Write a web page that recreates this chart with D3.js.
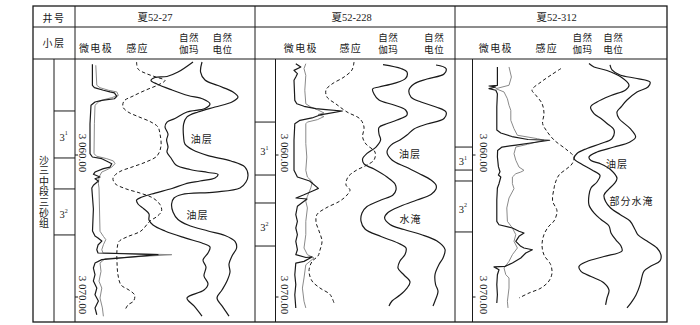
<!DOCTYPE html>
<html><head><meta charset="utf-8">
<script src="https://cdn.jsdelivr.net/npm/d3@7"></script>
<style>body{margin:0;background:#fff}svg{display:block}</style>
</head><body><svg id="c" width="700" height="325"></svg>
<script>
// ---------------- DATA ----------------
const wellNames = ["夏52-27", "夏52-228", "夏52-312"];
const curveNames = ["微电极", "感应", "自然\n伽玛", "自然\n电位"];
const rowHeaders = ["井号", "小层"];
const formationName = "沙三中段三砂组";
const layerNames = [["3", "1"], ["3", "2"]];
const depthTicks = [3060, 3070];
const depthTickLabels = ["3 060.00", "3 070.00"];

// layer boundaries (m): top/bottom of 3^1, top/bottom of 3^2
const w1Layers = [3056.90, 3060.21, 3062.39, 3065.63];
const w2Layers = [3057.68, 3061.41, 3063.38, 3066.41];
const w3Layers = [3059.44, 3061.06, 3061.83, 3065.42];

// curves: [depth (m), relative reading]
const w1MicroBlack = [[3053.61,8.7],[3055.09,8.7],[3055.26,9.7],[3055.44,14.2],[3055.56,17.5],[3055.63,19.7],[3055.87,20.9],[3056.04,19.7],[3056.15,13.4],[3056.27,10],[3056.50,8],[3057.80,7.5],[3059.91,7.5],[3060.14,8.7],[3060.26,13.4],[3060.49,16.7],[3060.61,18.4],[3060.85,17.5],[3060.96,14.2],[3061.20,10],[3061.36,9.2],[3061.55,12.5],[3061.67,10],[3061.83,11.7],[3062.13,9.2],[3062.32,8.4],[3063.80,9.2],[3065.35,8.75],[3065.70,10],[3065.84,11.5],[3066.06,13.4],[3066.34,11.5],[3066.67,10.9],[3066.90,11.5],[3067.02,41.5],[3067.37,13.4],[3067.61,10],[3067.96,9.2],[3068.43,10],[3068.87,9.2],[3069.37,10.9],[3069.84,10],[3070.28,11.7],[3070.77,10],[3071.25,10.9]];
const w1MicroGray = [[3053.68,10.4],[3055.09,10.9],[3055.26,12.5],[3055.44,16.7],[3055.56,20.9],[3055.80,21.7],[3055.96,18.4],[3056.11,14.2],[3056.27,11.7],[3056.50,10],[3057.80,9.7],[3059.91,9.5],[3060.09,10.9],[3060.26,15.9],[3060.42,19.2],[3060.61,20],[3060.85,18.4],[3061.04,15.9],[3061.20,13.4],[3061.55,12],[3062.02,11.7],[3062.32,12],[3065.37,12.5],[3065.73,14.2],[3065.96,15.4],[3066.32,14.2],[3066.67,13.4],[3066.90,14],[3067.02,48.4],[3067.30,15],[3067.61,12.5],[3068.19,13],[3068.89,12],[3069.37,13.4],[3070.07,12.5],[3070.77,13.7],[3071.36,14.2]];
const w1Induction = [[3053.45,30.8],[3053.94,31.5],[3054.26,35.5],[3054.51,40.5],[3054.75,45],[3055.07,41.5],[3055.42,35.5],[3055.85,29],[3056.20,24.5],[3056.62,24],[3056.97,26.5],[3057.29,31.5],[3057.68,38],[3058.03,41.5],[3058.52,42.5],[3059.37,43],[3060.07,41],[3060.49,35.5],[3060.85,28.5],[3061.20,22],[3061.62,19],[3062.01,20],[3062.36,25],[3062.68,32.5],[3063.03,39],[3063.49,42.5],[3063.94,43.3],[3064.33,41],[3064.65,37.5],[3065.35,33],[3065.77,26],[3066.09,22],[3066.69,21],[3067.54,21],[3068.45,21.5],[3069.15,23],[3069.51,27],[3069.86,29.8],[3070.28,29.3],[3070.56,26.5],[3070.92,25]];
const w1GR = [[3053.45,59],[3054.16,51.5],[3054.47,46],[3054.54,40],[3054.75,38],[3055.00,41],[3055.42,48.5],[3055.81,56.5],[3056.06,64],[3056.41,67.5],[3056.73,65],[3056.97,56],[3057.43,50],[3057.68,46],[3058.03,45],[3058.52,46.5],[3058.94,45.8],[3059.44,46.5],[3059.79,46],[3060.21,48],[3060.70,50.5],[3061.02,57.5],[3061.23,66.5],[3061.37,71.5],[3061.62,70],[3061.83,62.5],[3062.04,55],[3062.36,48.5],[3062.68,40],[3062.96,33.5],[3063.17,30.8],[3063.45,31.5],[3063.80,34.5],[3064.15,37],[3064.58,37],[3064.93,39],[3065.35,45],[3065.84,55],[3066.23,64],[3066.48,67.5],[3066.90,66.5],[3067.39,64],[3067.89,65.5],[3068.52,64.5],[3069.08,66.5],[3069.51,64.5],[3070.07,56],[3070.63,59.5],[3071.34,63.5]];
const w1SP = [[3053.45,63.5],[3054.16,62.8],[3054.72,65],[3055.11,71.5],[3055.56,79],[3055.92,81.5],[3056.27,78.5],[3056.62,70],[3056.97,61.5],[3057.32,56],[3057.82,54.3],[3058.73,54.3],[3059.23,55],[3059.65,59],[3060.04,66.5],[3060.42,78],[3060.85,85],[3061.41,86.5],[3061.90,85.5],[3062.32,82.5],[3062.61,70],[3062.78,53.5],[3063.03,49.5],[3063.45,48.3],[3064.01,49],[3064.54,51.5],[3064.93,56.5],[3065.35,66.5],[3065.67,75],[3066.09,80],[3066.55,80.8],[3067.11,78.5],[3067.68,77],[3068.24,77.5],[3068.87,76],[3069.51,73.5],[3070.07,71],[3070.63,73.5],[3071.34,77]];

const w2MicroBlack = [[3053.57,20.4],[3053.80,22.9],[3054.04,19.5],[3054.27,21.2],[3054.51,20.4],[3054.74,19.5],[3056.15,19.9],[3056.39,20.9],[3056.57,24.5],[3056.74,30.4],[3056.80,35.5],[3056.90,43.7],[3057.09,36.2],[3057.18,32.5],[3057.39,28.5],[3057.56,22.5],[3057.80,19.9],[3058.96,19.5],[3061.08,19.5],[3061.55,21.2],[3061.83,27.3],[3062.35,31.7],[3062.46,30],[3062.82,24.2],[3063.03,20.5],[3063.10,26],[3063.61,21.2],[3064.20,20.4],[3064.67,21.2],[3065.14,20.4],[3065.61,21.2],[3066.08,20.4],[3066.67,21.2],[3067.02,20.4],[3067.22,25.5],[3067.18,28.5],[3067.49,24.5],[3067.61,20.4],[3068.43,19.9],[3069.13,20.4],[3069.84,19.9],[3070.77,20.4]];
const w2MicroGray = [[3053.57,25.4],[3053.92,24.5],[3054.39,25.4],[3055.44,24.9],[3056.39,25.4],[3056.62,27.9],[3056.81,31.2],[3057.04,34.5],[3057.15,31.5],[3057.29,34.5],[3057.51,31.2],[3057.68,26.2],[3057.80,25.4],[3059.20,25.4],[3060.14,25.9],[3061.08,25.4],[3061.55,26.2],[3061.90,28.7],[3062.32,27.9],[3062.91,26.2],[3063.26,25.4],[3063.73,26.2],[3064.67,25.4],[3065.61,25.4],[3066.55,24.5],[3067.02,26.2],[3067.25,29.5],[3067.73,25.4],[3068.66,24.5],[3069.37,23.7],[3070.30,24.5],[3070.77,25.4]];
const w2Induction = [[3053.45,49.5],[3054.01,48.5],[3054.51,44.5],[3055.00,38.5],[3055.42,35.5],[3055.92,36],[3056.41,40.5],[3056.97,46],[3057.46,52.5],[3058.03,54.5],[3058.73,53.8],[3059.23,55.5],[3059.79,60],[3060.35,59.5],[3060.74,55.5],[3061.09,50.5],[3061.55,46.5],[3062.11,45.5],[3062.46,47.5],[3062.82,46],[3063.24,42.5],[3063.73,35.5],[3064.19,31],[3064.72,30.5],[3065.35,32],[3066.06,33.5],[3066.69,32.5],[3067.11,31.5],[3067.50,28.5],[3068.17,27],[3068.87,28.5],[3069.37,32.5],[3069.82,37.5],[3070.42,39.5]];
const w2GR = [[3053.63,64],[3053.91,73],[3054.16,76],[3054.61,75.3],[3054.96,69.5],[3055.21,62],[3055.35,58.8],[3055.70,59.5],[3056.13,62],[3056.48,69.5],[3056.83,75.3],[3057.18,76],[3057.54,71],[3057.82,65.5],[3058.06,62],[3058.52,62],[3058.94,62.8],[3059.44,60.5],[3059.89,56],[3060.28,53.8],[3060.63,54.5],[3060.99,59.5],[3061.55,66],[3062.04,70],[3062.46,70.5],[3062.82,69],[3063.17,63],[3063.63,56],[3064.08,53.5],[3064.65,53],[3065.21,55],[3065.74,63],[3066.20,71.5],[3066.55,75.5],[3067.01,75],[3067.46,72.5],[3067.96,71.5],[3068.45,74.5],[3068.94,77.5],[3069.37,76],[3069.86,72.5],[3070.28,68.5],[3070.63,67]];
const w2SP = [[3053.66,90.5],[3053.91,95.5],[3054.30,94.5],[3054.65,86],[3055.00,79.5],[3055.42,77],[3055.92,78],[3056.27,83],[3056.62,90.5],[3056.97,95.5],[3057.43,94.5],[3057.82,86],[3058.17,79.5],[3058.59,76],[3058.94,72.5],[3059.30,68],[3059.79,66],[3060.35,68.5],[3060.85,75.5],[3061.30,82],[3061.76,88],[3062.11,90.5],[3062.39,90.5],[3062.78,88],[3063.17,81],[3063.59,73],[3064.05,66.5],[3064.44,64.8],[3064.89,67.5],[3065.25,74.5],[3065.60,83],[3066.06,91],[3066.65,95],[3067.25,94],[3067.71,92],[3068.42,90],[3069.12,90.3],[3069.58,91.5],[3070.28,90],[3070.63,89]];

const w3MicroBlack = [[3053.80,21.2],[3055.09,21.2],[3055.14,17],[3055.21,20.4],[3055.33,17],[3055.44,20.4],[3055.68,21.2],[3056.62,20.9],[3058.24,20.9],[3058.45,22.9],[3058.70,28.5],[3058.91,36.5],[3058.96,47.3],[3059.12,39.5],[3059.30,30.5],[3059.44,23.5],[3059.68,21.3],[3060.14,21.2],[3060.82,21.7],[3061.18,22.5],[3061.41,21.7],[3061.55,22.9],[3062.02,22],[3062.32,21.2],[3063.17,20.9],[3064.67,20.9],[3064.91,22],[3065.14,28.7],[3065.37,32],[3065.49,34.5],[3065.73,32],[3066.08,30.4],[3066.43,32.9],[3066.55,34.5],[3066.67,38.7],[3066.90,35.4],[3067.25,32.9],[3067.61,28.7],[3067.84,25],[3067.88,19.5],[3068.08,22],[3068.43,21.2],[3069.13,20.9],[3069.84,21.2],[3070.42,20.9]];
const w3MicroGray = [[3053.80,27],[3054.51,28.2],[3055.09,27],[3055.33,20.4],[3055.56,24.5],[3056.04,26.2],[3056.50,27],[3056.85,27.9],[3057.56,27.9],[3058.15,29.5],[3058.61,31.2],[3058.85,41.2],[3058.96,44.5],[3059.25,36.2],[3059.44,30.4],[3059.91,29.5],[3060.37,30.4],[3060.85,32],[3061.08,34.5],[3061.20,32.9],[3061.32,30.4],[3061.55,28.7],[3062.02,28.7],[3062.37,29.5],[3063.03,27],[3063.73,25.9],[3064.67,26.2],[3065.14,28.7],[3065.61,30.4],[3066.08,29.5],[3066.55,31.2],[3067.02,28.7],[3067.49,27],[3067.96,24.5],[3068.43,25.4],[3068.66,27],[3069.37,27],[3070.30,26.2],[3070.77,26.5]];
const w3Induction = [[3053.91,53],[3054.37,48],[3054.86,43],[3055.42,38.5],[3055.77,40.3],[3056.37,43.5],[3057.08,44.5],[3057.78,43.8],[3058.24,45.5],[3058.94,49.5],[3059.65,56],[3060.14,59.5],[3060.63,58.5],[3060.95,56],[3061.41,52],[3061.90,50.3],[3062.36,49.5],[3063.24,48.8],[3063.94,51],[3064.65,49.5],[3065.00,47],[3065.60,44.5],[3066.34,43.5],[3067.04,44.5],[3067.71,47.8],[3068.31,48.5],[3068.87,47],[3069.37,43],[3069.72,37],[3070.07,32]];
const w3GR = [[3053.56,67],[3053.80,69.5],[3054.05,76],[3054.51,83],[3055.07,87],[3055.42,85.3],[3055.81,78],[3056.27,71],[3056.62,67.8],[3057.08,69.5],[3057.43,73],[3057.78,76],[3058.24,79.5],[3058.84,78.5],[3059.19,73],[3059.54,66],[3059.89,61],[3060.25,59.5],[3060.60,62.8],[3061.06,68.5],[3061.44,72.5],[3061.90,71],[3062.32,68],[3062.82,67],[3063.52,67],[3064.08,69.5],[3064.54,73],[3065.00,77],[3065.49,78],[3065.99,80.5],[3066.41,83],[3066.76,83.5],[3067.15,74.5],[3067.50,66],[3067.85,62],[3068.20,63],[3068.56,68],[3069.01,74.5],[3069.51,77],[3070.07,76],[3070.56,75.3]];
const w3SP = [[3053.66,77.5],[3054.01,78.5],[3054.37,82.5],[3054.61,91],[3054.86,97.5],[3055.21,96.5],[3055.56,91],[3056.13,86],[3056.62,83],[3056.97,81],[3057.43,82],[3058.13,87.5],[3058.73,90.3],[3059.08,87.5],[3059.44,79.5],[3059.79,71],[3060.14,67],[3060.39,68],[3060.63,73],[3061.06,78],[3061.65,81],[3062.04,79.5],[3062.39,77],[3062.82,74.5],[3063.27,75.3],[3063.73,77.8],[3064.19,82.5],[3064.65,87.5],[3065.25,90],[3065.63,91.5],[3066.06,96],[3066.55,101],[3067.04,103],[3067.46,102.5],[3067.82,98],[3068.17,94.5],[3068.56,93.5],[3069.15,92.5],[3069.86,90.5],[3070.42,88],[3070.77,86]];

// interpretation notes: [text, depth, reading]
const w1Notes = [["油层", 3058.87, 63.4], ["油层", 3064.19, 61.3]];
const w2Notes = [["油层", 3059.89, 77.5], ["水淹", 3064.44, 77.8]];
const w3Notes = [["油层", 3060.60, 81], ["部分水淹", 3063.20, 88.3]];

// ---------------- LAYOUT ----------------
const F = {left:33, right:667, top:6, h1:27, h2:59, bottom:322, split:54};
const WL = [
  {x0:75,  x1:255, axis:75,    layerL:54,  dmax:90,  title:155,   cols:[96,137.5,189,222.5], lbl:83},
  {x0:255, x1:455, axis:275.5, layerL:255, dmax:100, title:351.7, cols:[300.8,350.8,388.3,434.2], lbl:284.5},
  {x0:455, x1:667, axis:472.5, layerL:455, dmax:106, title:556.7, cols:[495.8,546.7,582.5,613.3], lbl:483.5}
];
const CJK = "'Noto Sans CJK SC', 'Noto Sans', sans-serif";
const SERIF = "'Liberation Serif', 'Noto Sans CJK SC', serif";

const wells = [
  {name:wellNames[0], layers:w1Layers, black:w1MicroBlack, gray:w1MicroGray, ind:w1Induction, gr:w1GR, sp:w1SP, notes:w1Notes},
  {name:wellNames[1], layers:w2Layers, black:w2MicroBlack, gray:w2MicroGray, ind:w2Induction, gr:w2GR, sp:w2SP, notes:w2Notes},
  {name:wellNames[2], layers:w3Layers, black:w3MicroBlack, gray:w3MicroGray, ind:w3Induction, gr:w3GR, sp:w3SP, notes:w3Notes}
];

const svg = d3.select("#c");
const y = d3.scaleLinear().domain([3060, 3070]).range([155, 297]);
const defs = svg.append("defs");
const ink = "#1a1a1a";

wells.forEach((w, i) => {
  const L = WL[i];
  const x = d3.scaleLinear().domain([0, L.dmax]).range([L.x0, L.x1]);
  defs.append("clipPath").attr("id", "clip" + i).append("rect")
    .attr("x", L.axis + 1).attr("y", F.h2 + 1).attr("width", L.x1 - L.axis - 2).attr("height", F.bottom - F.h2 - 2);
  const g = svg.append("g").attr("clip-path", `url(#clip${i})`).attr("fill", "none");
  const lin = d3.line().x(d => x(d[1])).y(d => y(d[0])).curve(d3.curveLinear);
  const smooth = d3.line().x(d => x(d[1])).y(d => y(d[0])).curve(d3.curveCatmullRom.alpha(0.5));
  g.append("path").datum(w.gray).attr("d", lin).attr("stroke", "#8a8a8a").attr("stroke-width", 1);
  g.append("path").datum(w.black).attr("d", lin).attr("stroke", ink).attr("stroke-width", 1.2).attr("stroke-linejoin", "round");
  g.append("path").datum(w.ind).attr("d", smooth).attr("stroke", ink).attr("stroke-width", 1).attr("stroke-dasharray", "3.5,2.5");
  g.append("path").datum(w.gr).attr("d", smooth).attr("stroke", ink).attr("stroke-width", 1.2);
  g.append("path").datum(w.sp).attr("d", smooth).attr("stroke", ink).attr("stroke-width", 1.2);

  // notes
  svg.append("g").selectAll("text").data(w.notes).join("text")
    .attr("x", d => x(d[2])).attr("y", d => y(d[1]))
    .attr("text-anchor", "middle").attr("dominant-baseline", "central")
    .attr("font-family", CJK).attr("font-size", 10).attr("letter-spacing", 1).attr("fill", ink)
    .text(d => d[0]);

  // title
  svg.append("text").attr("x", L.title).attr("y", (F.top + F.h1) / 2 + 0.5)
    .attr("text-anchor", "middle").attr("dominant-baseline", "central")
    .attr("font-family", SERIF).attr("font-size", 10.5).attr("fill", ink).text(w.name);

  // curve headers
  curveNames.forEach((c, j) => {
    const parts = c.split("\n");
    if (parts.length === 1) {
      svg.append("text").attr("text-anchor", "middle")
        .attr("font-family", CJK).attr("font-size", 10).attr("fill", ink).attr("letter-spacing", 1.3)
        .attr("x", L.cols[j]).attr("y", 52).text(parts[0]);
    } else {
      parts.forEach((p, k) => {
        svg.append("text").attr("text-anchor", "middle")
          .attr("font-family", CJK).attr("font-size", 9.5).attr("fill", ink).attr("letter-spacing", 0.6)
          .attr("x", L.cols[j]).attr("y", 40.5 + k * 12.5).text(p);
      });
    }
  });

  // layer boxes
  svg.append("g").selectAll("line").data(w.layers).join("line")
    .attr("x1", L.layerL).attr("x2", L.axis).attr("y1", d => y(d)).attr("y2", d => y(d))
    .attr("stroke", ink).attr("stroke-width", 1);
  layerNames.forEach((ln, j) => {
    const mid = (y(w.layers[2 * j]) + y(w.layers[2 * j + 1])) / 2 + 3;
    const t = svg.append("text").attr("x", (L.layerL + L.axis) / 2 - 1).attr("y", mid)
      .attr("text-anchor", "middle").attr("dominant-baseline", "central")
      .attr("font-family", SERIF).attr("font-size", 10.5).attr("fill", ink).text(ln[0]);
    t.append("tspan").attr("font-size", 6).attr("dy", -4).text(ln[1]);
  });

  // depth axis
  if (i > 0) {
    svg.append("line").attr("x1", L.axis).attr("x2", L.axis).attr("y1", F.h2).attr("y2", F.bottom)
      .attr("stroke", ink).attr("stroke-width", 1);
  }
  svg.append("g").selectAll("line").data(depthTicks).join("line")
    .attr("x1", L.axis).attr("x2", L.axis + 3).attr("y1", d => y(d)).attr("y2", d => y(d))
    .attr("stroke", ink).attr("stroke-width", 1);
  svg.append("g").selectAll("text").data(depthTicks).join("text")
    .attr("transform", (d, k) => `translate(${L.lbl},${y(d) - 2}) rotate(90)`)
    .attr("text-anchor", "middle").attr("dominant-baseline", "central")
    .attr("font-family", SERIF).attr("font-size", 11).attr("fill", ink)
    .text((d, k) => depthTickLabels[k]);
});

// table frame
const grid = svg.append("g").attr("stroke", ink).attr("stroke-width", 1).attr("fill", "none");
grid.append("rect").attr("x", F.left).attr("y", F.top).attr("width", F.right - F.left).attr("height", F.bottom - F.top).attr("stroke-width", 1.3);
[F.h1, F.h2].forEach(h => grid.append("line").attr("x1", F.left).attr("x2", F.right).attr("y1", h).attr("y2", h));
[75, 255, 455].forEach(v => grid.append("line").attr("x1", v).attr("x2", v).attr("y1", F.top).attr("y2", F.bottom));
grid.append("line").attr("x1", F.split).attr("x2", F.split).attr("y1", F.h2).attr("y2", F.bottom);

// row headers
rowHeaders.forEach((h, k) => {
  svg.append("text").attr("x", (F.left + 75) / 2).attr("y", k === 0 ? (F.top + F.h1) / 2 + 0.5 : (F.h1 + F.h2) / 2 - 1)
    .attr("text-anchor", "middle").attr("dominant-baseline", "central")
    .attr("font-family", CJK).attr("font-size", 10).attr("letter-spacing", 1.5).attr("fill", ink).text(h);
});

// vertical formation name (single text, vertical writing mode)
svg.append("text")
  .attr("x", (F.left + F.split) / 2 + 0.5).attr("y", 192)
  .attr("writing-mode", "tb").attr("text-anchor", "middle")
  .attr("font-family", CJK).attr("font-size", 10).attr("letter-spacing", 0.6).attr("fill", ink)
  .text(formationName);
</script></body></html>
